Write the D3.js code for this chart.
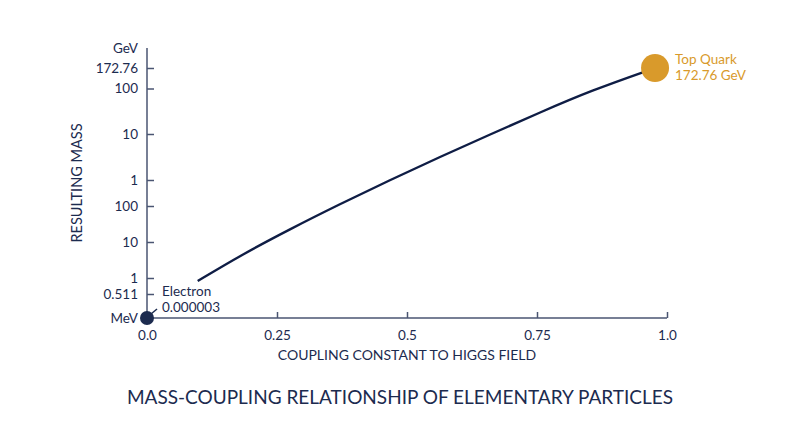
<!DOCTYPE html>
<html>
<head>
<meta charset="utf-8">
<script src="https://cdn.jsdelivr.net/npm/d3@7"></script>
<style>
  body { margin: 0; background: #fff; }
  svg { display: block; font-family: Lato, "Open Sans", sans-serif; }
</style>
</head>
<body>
<div id="chart"></div>
<script>
// coupling constant (x) and resulting mass in MeV (y)
const couplings = [0.0975, 0.179, 0.275, 0.371, 0.467, 0.5635, 0.66, 0.756, 0.852, 0.977];
const massesMeV = [0.88, 4.19, 22.8, 118, 991, 3177, 9795, 29850, 88500, 172760];

// y tick values (MeV) and the labels shown beside them
const yTickValues = [0.511, 1, 10, 100, 1000, 10000, 100000, 172760];
const yTickLabels = ["0.511", "1", "10", "100", "1", "10", "100", "172.76"];
const xTickValues = [0, 0.25, 0.5, 0.75, 1];
const xTickLabels = ["0.0", "0.25", "0.5", "0.75", "1.0"];

// highlighted particles
const electron = { name: "Electron", coupling: 0.000003, label: "0.000003" };
const topQuark = { name: "Top Quark", coupling: 0.977, massMeV: 172760, label: "172.76 GeV" };

const width = 800, height = 447;
const navy = "#1c2b4f", lineColor = "#0f1d45", axisColor = "#4a5572", gold = "#d99a2b";

const svg = d3.select("#chart").append("svg")
  .attr("width", width)
  .attr("height", height);

const x = d3.scaleLinear().domain([0, 1]).range([147, 667]);

// the reference axis is not evenly spaced: a piecewise log scale through its ticks
// (0.25 and 300000 are just the bottom and top ends of the axis)
const y = d3.scaleLog()
  .domain([0.25, 0.511, 1, 10, 100, 1000, 10000, 100000, 172760, 300000])
  .range([318, 294, 278, 242, 206, 180, 134, 88.5, 68, 48]);
const yFloor = y.domain()[0], yCeil = y.domain()[y.domain().length - 1];

// axes
const xAxis = d3.axisBottom(x)
  .tickValues(xTickValues)
  .tickFormat((d, i) => xTickLabels[i])
  .tickSize(-6).tickPadding(12);
const yAxis = d3.axisLeft(y)
  .tickValues(yTickValues)
  .tickFormat((d, i) => yTickLabels[i])
  .tickSize(-7).tickPadding(9);

const gx = svg.append("g")
  .attr("transform", `translate(0,${y(yFloor)})`)
  .call(xAxis);
gx.select(".domain").attr("d", `M${x(0)},0H${x(1)}`);

const gy = svg.append("g")
  .attr("transform", `translate(${x(0)},0)`)
  .call(yAxis);
gy.select(".domain").attr("d", `M0,${y(yFloor)}V${y(yCeil)}`);

[gx, gy].forEach(g => {
  g.select(".domain").attr("stroke", axisColor).attr("stroke-width", 1.5);
  g.selectAll(".tick line").attr("stroke", axisColor).attr("stroke-width", 1.5);
  g.selectAll(".tick text").attr("fill", navy).style("font-size", "13.5px").style("font-family", "Lato, sans-serif");
});

// unit labels at each end of the y axis
svg.append("text").attr("x", x(0) - 9).attr("y", y(yCeil)).attr("dy", "0.35em")
  .attr("text-anchor", "end").attr("fill", navy).style("font-size", "13.5px").text("GeV");
svg.append("text").attr("x", x(0) - 9).attr("y", y(yFloor)).attr("dy", "0.35em")
  .attr("text-anchor", "end").attr("fill", navy).style("font-size", "13.5px").text("MeV");

// curve
const pts = couplings.map((c, i) => ({ c: c, m: massesMeV[i] }));
const line = d3.line()
  .x(d => x(d.c))
  .y(d => y(d.m))
  .curve(d3.curveBasis);
svg.append("path")
  .datum(pts)
  .attr("d", line)
  .attr("fill", "none")
  .attr("stroke", lineColor)
  .attr("stroke-width", 2.4);

// electron, pinned to the axis origin like the reference
const ex = x(electron.coupling), ey = y(yFloor);
svg.append("line")
  .attr("x1", ex + 4).attr("y1", ey - 4)
  .attr("x2", ex + 10).attr("y2", ey - 9)
  .attr("stroke", navy).attr("stroke-width", 1.5);
svg.append("circle").attr("cx", ex).attr("cy", ey).attr("r", 7).attr("fill", navy);
const et = svg.append("text").attr("x", ex + 15).attr("y", ey - 22)
  .attr("fill", navy).style("font-size", "13.5px");
et.append("tspan").attr("x", ex + 15).attr("dy", 0).text(electron.name);
et.append("tspan").attr("x", ex + 15).attr("dy", "1.2em").text(electron.label);

// top quark
const tx = x(topQuark.coupling), ty = y(topQuark.massMeV);
svg.append("circle").attr("cx", tx).attr("cy", ty).attr("r", 14).attr("fill", gold);
const tt = svg.append("text").attr("x", tx + 20).attr("y", ty - 4)
  .attr("fill", gold).style("font-size", "13.5px");
tt.append("tspan").attr("x", tx + 20).attr("dy", 0).text(topQuark.name);
tt.append("tspan").attr("x", tx + 20).attr("dy", "1.2em").text(topQuark.label);

// axis titles
svg.append("text")
  .attr("x", (x(0) + x(1)) / 2).attr("y", 360)
  .attr("text-anchor", "middle").attr("fill", navy)
  .style("font-size", "14px")
  .text("COUPLING CONSTANT TO HIGGS FIELD");
svg.append("text")
  .attr("transform", `translate(82,${(y(yFloor) + y(yCeil)) / 2}) rotate(-90)`)
  .attr("text-anchor", "middle").attr("fill", navy)
  .style("font-size", "14.5px")
  .text("RESULTING MASS");

// title
svg.append("text")
  .attr("x", width / 2).attr("y", 404)
  .attr("text-anchor", "middle").attr("fill", navy)
  .style("font-size", "19px")
  .text("MASS-COUPLING RELATIONSHIP OF ELEMENTARY PARTICLES");
</script>
</body>
</html>
